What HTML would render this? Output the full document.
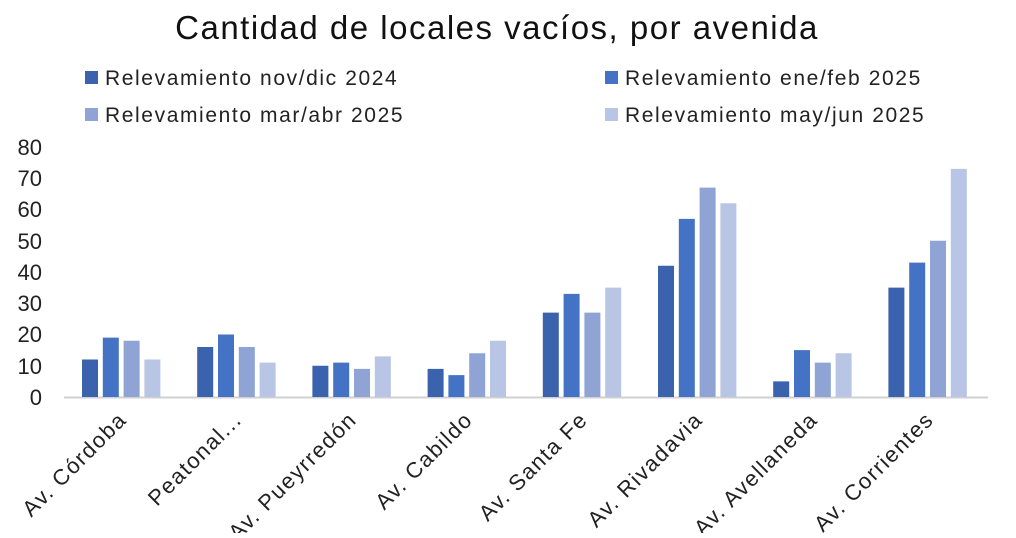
<!DOCTYPE html>
<html><head><meta charset="utf-8"><style>body{margin:0;background:#fff}</style></head><body>
<svg width="1016" height="533" xmlns="http://www.w3.org/2000/svg" font-family="Liberation Sans, DejaVu Sans, sans-serif">
<rect width="1016" height="533" fill="#fff"/>
<text x="497" y="39" font-size="33" letter-spacing="1.5" text-anchor="middle" fill="#111">Cantidad de locales vacíos, por avenida</text>
<g font-size="21" letter-spacing="1.6" fill="#222">
<rect x="85" y="71" width="13" height="13" fill="#3a62ad"/><text x="105" y="85">Relevamiento nov/dic 2024</text>
<rect x="605" y="71" width="13" height="13" fill="#4472c4"/><text x="625" y="85">Relevamiento ene/feb 2025</text>
<rect x="85" y="108" width="13" height="13" fill="#8fa4d4"/><text x="105" y="122">Relevamiento mar/abr 2025</text>
<rect x="605" y="108" width="13" height="13" fill="#b9c5e4"/><text x="625" y="122">Relevamiento may/jun 2025</text>
</g>
<g font-size="22" fill="#222" text-anchor="end">
<text x="42" y="405">0</text><text x="42" y="374">10</text><text x="42" y="342">20</text><text x="42" y="311">30</text><text x="42" y="280">40</text><text x="42" y="249">50</text><text x="42" y="217">60</text><text x="42" y="186">70</text><text x="42" y="155">80</text>
</g>
<line x1="64" y1="397.5" x2="988" y2="397.5" stroke="#d0d0d0" stroke-width="2"/>
<g transform="translate(0,397) scale(1,-1)">
<g fill="#3a62ad">
<rect x="82" y="0" width="16" height="37.5"/><rect x="197.2" y="0" width="16" height="50"/><rect x="312.4" y="0" width="16" height="31.25"/><rect x="427.6" y="0" width="16" height="28.125"/><rect x="542.8" y="0" width="16" height="84.375"/><rect x="658" y="0" width="16" height="131.25"/><rect x="773.2" y="0" width="16" height="15.625"/><rect x="888.4" y="0" width="16" height="109.375"/>
</g>
<g fill="#4472c4">
<rect x="102.8" y="0" width="16" height="59.375"/><rect x="218" y="0" width="16" height="62.5"/><rect x="333.2" y="0" width="16" height="34.375"/><rect x="448.4" y="0" width="16" height="21.875"/><rect x="563.6" y="0" width="16" height="103.125"/><rect x="678.8" y="0" width="16" height="178.125"/><rect x="794" y="0" width="16" height="46.875"/><rect x="909.2" y="0" width="16" height="134.375"/>
</g>
<g fill="#8fa4d4">
<rect x="123.6" y="0" width="16" height="56.25"/><rect x="238.8" y="0" width="16" height="50"/><rect x="354" y="0" width="16" height="28.125"/><rect x="469.2" y="0" width="16" height="43.75"/><rect x="584.4" y="0" width="16" height="84.375"/><rect x="699.6" y="0" width="16" height="209.375"/><rect x="814.8" y="0" width="16" height="34.375"/><rect x="930" y="0" width="16" height="156.25"/>
</g>
<g fill="#b9c5e4">
<rect x="144.4" y="0" width="16" height="37.5"/><rect x="259.6" y="0" width="16" height="34.375"/><rect x="374.8" y="0" width="16" height="40.625"/><rect x="490" y="0" width="16" height="56.25"/><rect x="605.2" y="0" width="16" height="109.375"/><rect x="720.4" y="0" width="16" height="193.75"/><rect x="835.6" y="0" width="16" height="43.75"/><rect x="950.8" y="0" width="16" height="228.125"/>
</g>
</g>
<g font-size="22" letter-spacing="1.5" fill="#222" text-anchor="end">
<text transform="translate(128,421) rotate(-45)">Av. Córdoba</text>
<text transform="translate(243,421) rotate(-45)">Peatonal...</text>
<text transform="translate(358,421) rotate(-45)">Av. Pueyrredón</text>
<text transform="translate(474,421) rotate(-45)">Av. Cabildo</text>
<text transform="translate(589,421) rotate(-45)">Av. Santa Fe</text>
<text transform="translate(704,421) rotate(-45)">Av. Rivadavia</text>
<text transform="translate(819,421) rotate(-45)">Av. Avellaneda</text>
<text transform="translate(935,421) rotate(-45)">Av. Corrientes</text>
</g>
</svg>
</body></html>
